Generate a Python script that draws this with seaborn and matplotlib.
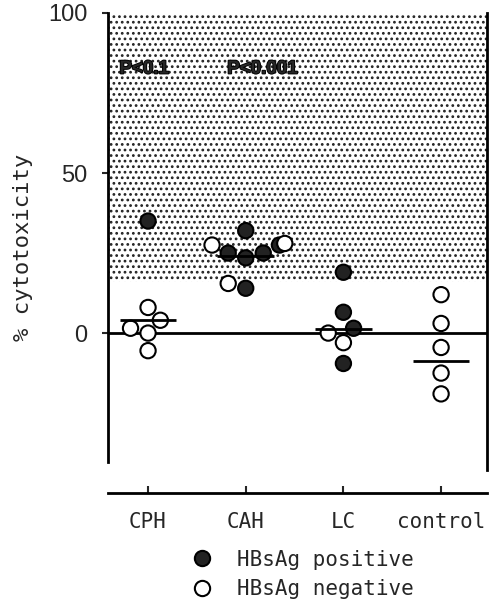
import matplotlib
matplotlib.use('Agg')
import matplotlib.pyplot as plt
import matplotlib.patheffects as pe
import seaborn as sns
import pandas as pd
import numpy as np
from matplotlib.lines import Line2D

# ---- data ----
groups = ['CPH', 'CAH', 'LC', 'control']
cph_pos = [35]
cph_neg = [8, 4, 1.5, 0, -5.5]
cah_pos = [32, 27.5, 25, 25, 23.5, 14]
cah_neg = [27.5, 28, 15.5]
lc_pos = [19, 6.5, 1.5, -9.5]
lc_neg = [0, -3]
control_pos = []
control_neg = [12, 3, -4.5, -12.5, -19]
group_means = [4, 24, 1.3, -8.8]
y_ticks = [0, 50, 100]
shade_from = 16
p_labels = ['P<0.1', 'P<0.001']
legend_labels = ['HBsAg positive', 'HBsAg negative']

rows = []
for g, pos, neg in zip(groups, [cph_pos, cah_pos, lc_pos, control_pos],
                       [cph_neg, cah_neg, lc_neg, control_neg]):
    rows += [(g, v, 'positive') for v in pos]
    rows += [(g, v, 'negative') for v in neg]
df = pd.DataFrame(rows, columns=['group', 'value', 'status'])

sns.set_style('ticks')
plt.rcParams['hatch.color'] = '#222222'
plt.rcParams['hatch.linewidth'] = 1.2
mono = 'DejaVu Sans Mono'
narrow = ['Liberation Sans Narrow', 'Liberation Sans', 'DejaVu Sans']

fig = plt.figure(figsize=(5, 6.04), dpi=100)
ax = fig.add_axes([0.216, 0.235, 0.758, 0.7435])

ax.axhspan(shade_from, 100, facecolor='white', edgecolor='#222222',
           hatch='...', lw=0, zorder=0)
ax.axhline(0, color='black', lw=2, zorder=2)

sns.swarmplot(data=df, x='group', y='value', hue='status', order=groups,
              hue_order=['positive', 'negative'],
              palette={'positive': '#222222', 'negative': 'white'},
              size=11, edgecolor='black', linewidth=1.5, legend=False,
              ax=ax, zorder=3)

xs = np.arange(len(groups))
ax.hlines(group_means, xs - 0.29, xs + 0.29, color='black', lw=2, zorder=4)

ax.set_xlim(-0.41, 3.47)
ax.set_ylim(-40.3, 100)

for xp, lab in zip([-0.04, 1.17], p_labels):
    ax.text(xp, 82.5, lab, ha='center', va='center', fontsize=13.5,
            fontweight='bold', family=['Liberation Sans', 'DejaVu Sans'],
            zorder=5,
            path_effects=[pe.withStroke(linewidth=1.3, foreground='black')])

ax.spines['top'].set_visible(False)
for s in ['left', 'right', 'bottom']:
    ax.spines[s].set_linewidth(2)
    ax.spines[s].set_color('black')
ax.spines['bottom'].set_position(('outward', 22))
ax.spines['right'].set_bounds(-42.8, 100)

ax.set_yticks(y_ticks)
ax.set_yticklabels([str(t) for t in y_ticks], fontsize=17, family=narrow)
ax.tick_params(axis='y', direction='out', length=4, width=1.5, pad=11)
ax.set_xticks(xs)
ax.set_xticklabels(groups, fontsize=15, family=mono)
ax.tick_params(axis='x', direction='in', length=5, width=1.5, pad=14)

ax.set_xlabel('')
ax.set_ylabel('% cytotoxicity', fontsize=16, family=mono)
ax.yaxis.set_label_coords(-0.198, 0.477)

handles = [Line2D([], [], marker='o', ls='', markersize=11,
                  markerfacecolor='#222222', markeredgecolor='black', markeredgewidth=1.5),
           Line2D([], [], marker='o', ls='', markersize=11,
                  markerfacecolor='white', markeredgecolor='black', markeredgewidth=1.5)]
fig.legend(handles, legend_labels, loc='center', bbox_to_anchor=(0.605, 0.049),
           frameon=False, prop={'family': mono, 'size': 15},
           handletextpad=1.2, labelspacing=0.45, handlelength=1.0)

fig.savefig('out.png', dpi=100, facecolor='white')
